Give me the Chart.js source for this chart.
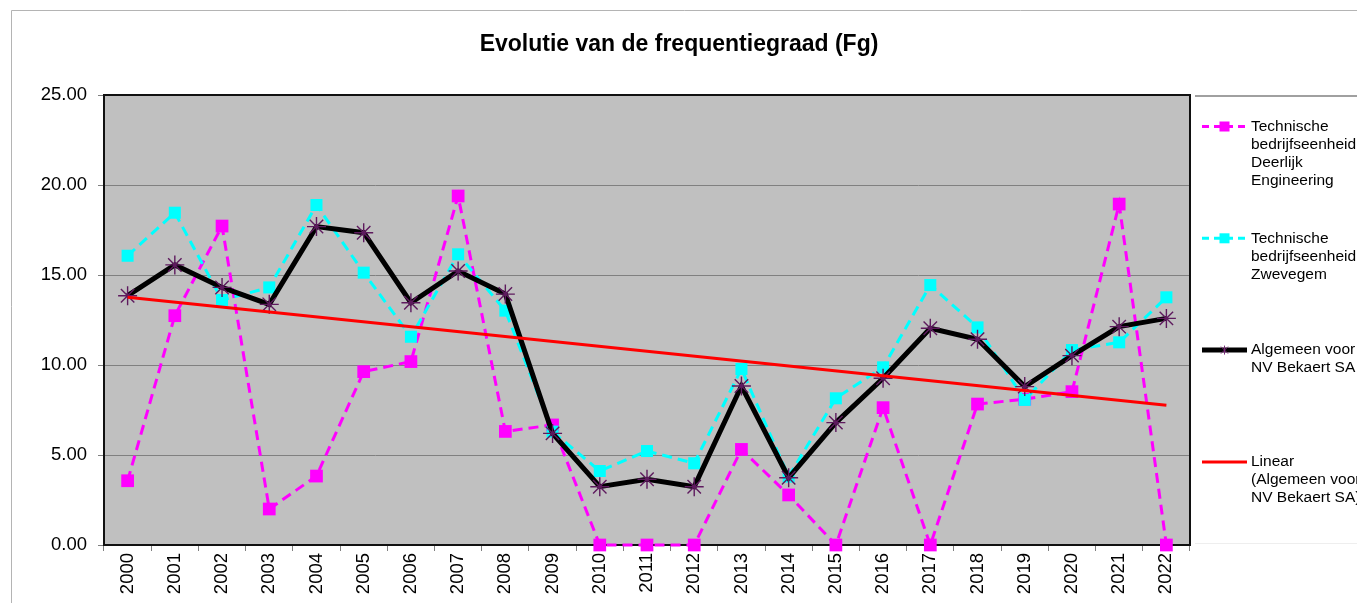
<!DOCTYPE html>
<html>
<head>
<meta charset="utf-8">
<title>Evolutie van de frequentiegraad (Fg)</title>
<script src="https://cdn.jsdelivr.net/npm/chart.js@4.4.1/dist/chart.umd.min.js"></script>
<style>
    html, body { margin: 0; padding: 0; background: #ffffff; }
    #wrap { width: 1357px; height: 603px; position: relative; }
</style>
</head>
<body>
<div id="wrap"><canvas id="fgChart"></canvas></div>
<script>
// Frequentiegraad per jaar

const chartTitle = "Evolutie van de frequentiegraad (Fg)";

const years = ["2000", "2001", "2002", "2003", "2004", "2005", "2006", "2007", "2008", "2009", "2010", "2011",
    "2012", "2013", "2014", "2015", "2016", "2017", "2018", "2019", "2020", "2021", "2022"];

const deerlijk = [3.57, 12.74, 17.72, 2.00, 3.83, 9.63, 10.19, 19.39, 6.31, 6.67, 0, 0,
    0, 5.31, 2.78, 0, 7.63, 0, 7.83, 8.10, 8.52, 18.94, 0];

const zwevegem = [16.07, 18.46, 13.61, 14.31, 18.89, 15.13, 11.57, 16.15, 13.02, 6.30, 4.11, 5.22,
    4.54, 9.78, 3.80, 8.15, 9.87, 14.44, 12.09, 8.06, 10.83, 11.26, 13.76];

const algemeen = [13.85, 15.56, 14.31, 13.37, 17.69, 17.35, 13.46, 15.22, 13.94, 6.20, 3.24, 3.65,
    3.24, 8.83, 3.74, 6.80, 9.26, 12.04, 11.43, 8.80, 10.52, 12.13, 12.59];

// trendline end points (first and last year)
const trendYears = ["2000", "2022"];
const trendValues = [13.76, 7.76];

const yTicks = [0, 5, 10, 15, 20, 25];

const legendItems = [
    { lines: ["Technische", "bedrijfseenheid", "Deerlijk", "Engineering"], color: "#ff00ff", dash: true, marker: "square", width: 3 },
    { lines: ["Technische", "bedrijfseenheid", "Zwevegem"], color: "#00ffff", dash: true, marker: "square", width: 3 },
    { lines: ["Algemeen voor", "NV Bekaert SA"], color: "#000000", dash: false, marker: "star", width: 5 },
    { lines: ["Linear", "(Algemeen voor", "NV Bekaert SA)"], color: "#ff0000", dash: false, marker: null, width: 3 }
];

const FONT = '"Liberation Sans", Arial, sans-serif';

// background, plot area fill, frame, title, legend
const decorPlugin = {
    id: "decor",
    beforeDraw(chart) {
        const ctx = chart.ctx;
        const a = chart.chartArea;
        ctx.save();
        ctx.fillStyle = "#ffffff";
        ctx.fillRect(0, 0, chart.width, chart.height);
        ctx.fillStyle = "#c0c0c0";
        ctx.fillRect(a.left, a.top, a.right - a.left, a.bottom - a.top);
        // outer chart frame (top and left visible)
        ctx.strokeStyle = "#b4b4b4";
        ctx.lineWidth = 1;
        ctx.beginPath();
        ctx.moveTo(11.5, chart.height);
        ctx.lineTo(11.5, 10.5);
        ctx.lineTo(chart.width, 10.5);
        ctx.stroke();
        ctx.restore();
    },
    beforeDatasetsDraw(chart) {
        const ctx = chart.ctx;
        const a = chart.chartArea;
        ctx.save();
        ctx.strokeStyle = "#111111";
        ctx.lineWidth = 2;
        ctx.strokeRect(a.left, a.top, a.right - a.left, a.bottom - a.top);
        ctx.restore();
    },
    afterDraw(chart) {
        const ctx = chart.ctx;
        ctx.save();
        // title, centred on the whole picture
        ctx.fillStyle = "#000000";
        ctx.font = "bold 23px " + FONT;
        ctx.textAlign = "center";
        ctx.textBaseline = "middle";
        ctx.fillText(chartTitle, 679, 45);

        // legend box top edge
        ctx.strokeStyle = "#a0a0a0";
        ctx.lineWidth = 2;
        ctx.beginPath();
        ctx.moveTo(1195, 96);
        ctx.lineTo(chart.width, 96);
        ctx.stroke();
        ctx.strokeStyle = "#eeeeee";
        ctx.lineWidth = 1;
        ctx.beginPath();
        ctx.moveTo(1195, 543.5);
        ctx.lineTo(chart.width, 543.5);
        ctx.stroke();

        ctx.font = "15.5px " + FONT;
        ctx.textBaseline = "middle";
        ctx.textAlign = "left";
        const x0 = 1202, x1 = 1247, tx = 1251;
        legendItems.forEach((item, i) => {
            const y = 126.5 + i * 111.8;
            ctx.strokeStyle = item.color;
            ctx.lineWidth = item.width;
            ctx.setLineDash(item.dash ? [7, 5] : []);
            ctx.beginPath();
            ctx.moveTo(x0, y);
            ctx.lineTo(x1, y);
            ctx.stroke();
            ctx.setLineDash([]);
            const mx = (x0 + x1) / 2;
            if (item.marker === "square") {
                ctx.fillStyle = item.color;
                ctx.fillRect(mx - 5, y - 5, 10, 10);
            } else if (item.marker === "star") {
                ctx.strokeStyle = "#7a2a7a";
                ctx.lineWidth = 1;
                ctx.beginPath();
                ctx.moveTo(mx - 3.5, y - 3.5); ctx.lineTo(mx + 3.5, y + 3.5);
                ctx.moveTo(mx + 3.5, y - 3.5); ctx.lineTo(mx - 3.5, y + 3.5);
                ctx.moveTo(mx, y - 4.5); ctx.lineTo(mx, y + 4.5);
                ctx.stroke();
            }
            ctx.fillStyle = "#000000";
            item.lines.forEach((t, j) => ctx.fillText(t, tx, y + j * 18));
        });
        ctx.restore();
    }
};

const ctx = document.getElementById("fgChart");
new Chart(ctx, {
    type: "line",
    data: {
        labels: years,
        datasets: [
            {
                label: "Technische bedrijfseenheid Deerlijk Engineering",
                data: deerlijk,
                borderColor: "#ff00ff",
                backgroundColor: "#ff00ff",
                borderWidth: 3,
                borderDash: [10, 6],
                pointStyle: "rect",
                pointRadius: 9,
                pointBorderWidth: 0,
                tension: 0,
                clip: false,
                order: 4
            },
            {
                label: "Technische bedrijfseenheid Zwevegem",
                data: zwevegem,
                borderColor: "#00ffff",
                backgroundColor: "#00ffff",
                borderWidth: 3,
                borderDash: [10, 6],
                pointStyle: "rect",
                pointRadius: 8.5,
                pointBorderWidth: 0,
                tension: 0,
                clip: false,
                order: 3
            },
            {
                label: "Algemeen voor NV Bekaert SA",
                data: algemeen,
                borderColor: "#000000",
                backgroundColor: "#5e1a5e",
                pointBorderColor: "#5e1a5e",
                borderWidth: 5,
                pointStyle: "star",
                pointRadius: 9.5,
                pointBorderWidth: 1.4,
                tension: 0,
                clip: false,
                order: 2
            },
            {
                label: "Linear (Algemeen voor NV Bekaert SA)",
                data: trendYears.map((y, i) => ({ x: y, y: trendValues[i] })),
                borderColor: "#ff0000",
                borderWidth: 3,
                pointRadius: 0,
                tension: 0,
                order: 1
            }
        ]
    },
    options: {
        responsive: true,
        maintainAspectRatio: false,
        animation: false,
        layout: { padding: { left: 0, right: 167, top: 95, bottom: 0 } },
        plugins: {
            legend: { display: false },
            tooltip: { enabled: false },
            title: { display: false }
        },
        scales: {
            x: {
                offset: true,
                grid: {
                    offset: true,
                    drawOnChartArea: false,
                    drawTicks: true,
                    tickLength: 6,
                    color: "#808080"
                },
                border: { display: false },
                ticks: {
                    minRotation: 90,
                    maxRotation: 90,
                    autoSkip: false,
                    padding: 2,
                    color: "#000000",
                    font: { family: FONT, size: 18.5 }
                },
                afterFit(scale) { scale.height = 58; }
            },
            y: {
                min: 0,
                max: 25,
                afterBuildTicks(scale) { scale.ticks = yTicks.map(v => ({ value: v })); },
                grid: {
                    color: "#808080",
                    lineWidth: 1,
                    tickLength: 6
                },
                border: { display: false },
                ticks: {
                    padding: 11,
                    color: "#000000",
                    font: { family: FONT, size: 18.5 },
                    callback: v => v.toFixed(2)
                },
                afterFit(scale) { scale.width = 104; }
            }
        }
    },
    plugins: [decorPlugin]
});
</script>
</body>
</html>
